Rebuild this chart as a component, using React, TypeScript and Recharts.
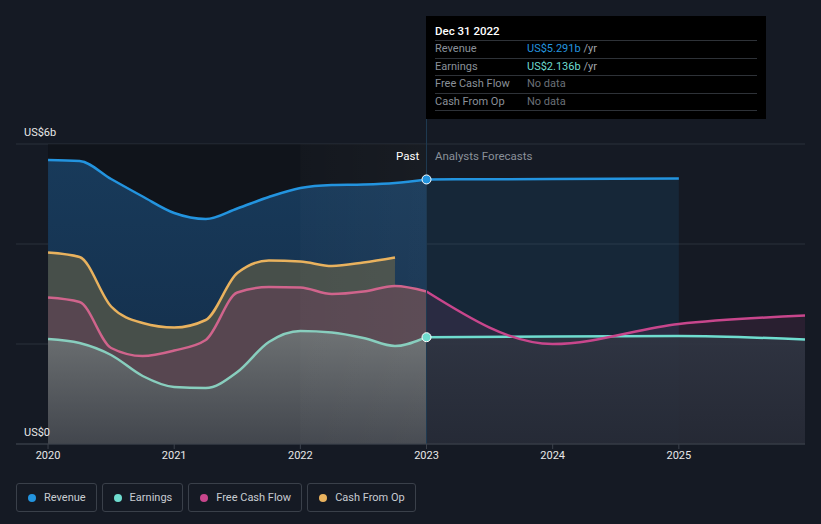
import React from 'react';
import { ComposedChart, XAxis, YAxis, CartesianGrid, Area, Line, ReferenceArea, ReferenceDot, ReferenceLine } from 'recharts';

// Past, quarterly (US$ billions)
const pastYears = [2020, 2020.25, 2020.5, 2020.75, 2021, 2021.25, 2021.5, 2021.75, 2022, 2022.25, 2022.5, 2022.75, 2023];
const revenuePast = [5.68, 5.66, 5.3, 4.95, 4.62, 4.5, 4.71, 4.94, 5.12, 5.18, 5.19, 5.22, 5.291];
const earningsPast = [2.1, 2.02, 1.78, 1.36, 1.14, 1.12, 1.44, 2.04, 2.26, 2.23, 2.12, 1.96, 2.136];
const fcfPast = [2.93, 2.84, 1.92, 1.76, 1.87, 2.08, 3.03, 3.14, 3.13, 3.0, 3.05, 3.16, 3.05];
const cfoYears = [2020, 2020.25, 2020.5, 2020.75, 2021, 2021.25, 2021.5, 2021.75, 2022, 2022.25, 2022.5, 2022.75];
const cfoPast = [3.83, 3.74, 2.75, 2.42, 2.33, 2.48, 3.42, 3.67, 3.65, 3.56, 3.63, 3.73];

// Analyst forecasts
const revenueForecastYears = [2023, 2024, 2025];
const revenueForecast = [5.291, 5.3, 5.31];
const forecastYears = [2023, 2024, 2025, 2026];
const earningsForecast = [2.136, 2.15, 2.16, 2.09];
const fcfForecast = [3.05, 2.0, 2.4, 2.57];

const xTicks = [2020, 2021, 2022, 2023, 2024, 2025];
const yTicks = [0, 2, 4, 6];

const legendItems = [
  { name: 'Revenue', color: '#2394df' },
  { name: 'Earnings', color: '#6fdccf' },
  { name: 'Free Cash Flow', color: '#c8468c' },
  { name: 'Cash From Op', color: '#e9b25e' },
];

const tooltipRows = [
  { name: 'Revenue', value: 'US$5.291b', color: '#2394df', unit: true },
  { name: 'Earnings', value: 'US$2.136b', color: '#6fdccf', unit: true },
  { name: 'Free Cash Flow', value: 'No data', color: '#6b7078', unit: false },
  { name: 'Cash From Op', value: 'No data', color: '#6b7078', unit: false },
];

// merge the series into one table keyed by x
const rows = new Map<number, any>();
const put = (xs: number[], ys: number[], key: string) => {
  xs.forEach((x, i) => {
    const r = rows.get(x) ?? { x };
    r[key] = ys[i];
    rows.set(x, r);
  });
};
put(pastYears, revenuePast, 'revenuePast');
put(pastYears, earningsPast, 'earningsPast');
put(pastYears, fcfPast, 'fcfPast');
put(cfoYears, cfoPast, 'cfoPast');
put(revenueForecastYears, revenueForecast, 'revenueForecast');
put(forecastYears, earningsForecast, 'earningsForecast');
put(forecastYears, fcfForecast, 'fcfForecast');
const data = [...rows.values()].sort((a, b) => a.x - b.x);

const YTick = (props: any) => {
  const { y, payload } = props;
  if (payload.value !== 0 && payload.value !== 6) return null;
  return (
    <text x={24} y={y - 8} fill="#e8e8e8" fontSize={11} fontFamily="Roboto">
      {payload.value === 0 ? 'US$0' : `US$${payload.value}b`}
    </text>
  );
};

const App = () => {
  return (
    <div style={{ position: 'absolute', left: 0, top: 0, width: 821, height: 524, background: '#151a24', fontFamily: 'Roboto', overflow: 'hidden' }}>
      <ComposedChart width={821} height={524} data={data} margin={{ top: 144, right: 16, bottom: 50, left: 16 }}>
        <defs>
          <linearGradient id="revFill" x1="0" y1="0" x2="0" y2="1">
            <stop offset="0%" stopColor="#183a5a" />
            <stop offset="100%" stopColor="#132c48" />
          </linearGradient>
          <linearGradient id="earnFill" x1="0" y1="0" x2="0" y2="1">
            <stop offset="0%" stopColor="#6c7072" />
            <stop offset="100%" stopColor="#42464d" />
          </linearGradient>
          <linearGradient id="earnFcFill" x1="0" y1="0" x2="0" y2="1">
            <stop offset="0%" stopColor="#2f3542" stopOpacity={0.92} />
            <stop offset="100%" stopColor="#252a35" stopOpacity={0.92} />
          </linearGradient>
          <linearGradient id="band" x1="0" y1="0" x2="1" y2="0">
            <stop offset="0%" stopColor="#ffffff" stopOpacity={0.03} />
            <stop offset="100%" stopColor="#ffffff" stopOpacity={0.07} />
          </linearGradient>
        </defs>
        <CartesianGrid vertical={false} stroke="#2b313b" />
        <ReferenceArea x1={2020} x2={2023} y1={0} y2={6} fill="#0a0d11" fillOpacity={0.45} stroke="none" />
        <XAxis
          dataKey="x"
          type="number"
          domain={[2019.746, 2026]}
          ticks={xTicks}
          allowDataOverflow
          tick={{ fill: '#e8e8e8', fontSize: 11, fontFamily: 'Roboto' }}
          tickSize={5}
          axisLine={{ stroke: '#3c424c' }}
          tickLine={{ stroke: '#3c424c' }}
        />
        <YAxis type="number" domain={[0, 6]} ticks={yTicks} mirror axisLine={false} tickLine={false} tick={<YTick />} />

        <Area type="monotone" dataKey="revenuePast" stroke="none" fill="url(#revFill)" fillOpacity={1} isAnimationActive={false} />
        <Area type="monotone" dataKey="cfoPast" stroke="none" fill="#474f4a" fillOpacity={1} isAnimationActive={false} />
        <Area type="monotone" dataKey="fcfPast" stroke="none" fill="#574650" fillOpacity={1} isAnimationActive={false} />
        <Area type="monotone" dataKey="earningsPast" stroke="none" fill="url(#earnFill)" fillOpacity={1} isAnimationActive={false} />

        <Area type="monotone" dataKey="revenueForecast" stroke="none" fill="#2394df" fillOpacity={0.11} isAnimationActive={false} />
        <Area type="monotone" dataKey="fcfForecast" stroke="none" fill="#c0468a" fillOpacity={0.12} isAnimationActive={false} />
        <Area type="monotone" dataKey="earningsForecast" stroke="none" fill="url(#earnFcFill)" fillOpacity={1} isAnimationActive={false} />

        <Line type="monotone" dataKey="revenuePast" stroke="#2394df" strokeWidth={2.5} dot={false} isAnimationActive={false} />
        <Line type="monotone" dataKey="cfoPast" stroke="#e9b25e" strokeWidth={2.5} dot={false} isAnimationActive={false} />
        <Line type="monotone" dataKey="fcfPast" stroke="#d0648c" strokeWidth={2.5} dot={false} isAnimationActive={false} />
        <Line type="monotone" dataKey="earningsPast" stroke="#88cebe" strokeWidth={2.5} dot={false} isAnimationActive={false} />
        <Line type="monotone" dataKey="revenueForecast" stroke="#2394df" strokeWidth={2.5} dot={false} isAnimationActive={false} />
        <Line type="monotone" dataKey="earningsForecast" stroke="#6fdccf" strokeWidth={2.5} dot={false} isAnimationActive={false} />
        <Line type="monotone" dataKey="fcfForecast" stroke="#c8468c" strokeWidth={2.5} dot={false} isAnimationActive={false} />

        <ReferenceArea x1={2022} x2={2023} y1={0} y2={6} fill="url(#band)" stroke="none" />
        <ReferenceLine
          segment={[{ x: 2023, y: 0 }, { x: 2023, y: 6.5 }]}
          ifOverflow="visible"
          stroke="#1f3a52"
          strokeWidth={1}
        />
        <ReferenceDot x={2023} y={revenuePast[revenuePast.length - 1]} r={4.5} fill="#2394df" stroke="#ffffff" strokeWidth={1} />
        <ReferenceDot x={2023} y={earningsPast[earningsPast.length - 1]} r={4.5} fill="#6fdccf" stroke="#ffffff" strokeWidth={1} />
      </ComposedChart>

      <div style={{ position: 'absolute', left: 396, top: 149, fontSize: 11.5, color: '#ffffff' }}>Past</div>
      <div style={{ position: 'absolute', left: 435, top: 149, fontSize: 11.5, color: '#8a9099' }}>Analysts Forecasts</div>

      <div style={{ position: 'absolute', left: 426, top: 16, width: 340, height: 103, background: '#000000', boxSizing: 'border-box', padding: '8px 9px 0 9px' }}>
        <div style={{ color: '#ffffff', fontSize: 11.5, fontWeight: 500, height: 16, lineHeight: '15px', borderBottom: '1px solid #2e3238' }}>Dec 31 2022</div>
        {tooltipRows.map((r) => (
          <div key={r.name} style={{ display: 'flex', fontSize: 11, height: 17.5, boxSizing: 'border-box', lineHeight: '16px', borderBottom: '1px solid #2e3238' }}>
            <div style={{ width: 92, color: '#8a9099' }}>{r.name}</div>
            <div style={{ color: r.color }}>
              {r.value}
              {r.unit && <span style={{ color: '#a0a4aa' }}> /yr</span>}
            </div>
          </div>
        ))}
      </div>

      <div style={{ position: 'absolute', left: 16, top: 483, display: 'flex', gap: 5 }}>
        {legendItems.map((item) => (
          <div
            key={item.name}
            style={{
              display: 'flex',
              alignItems: 'center',
              height: 27,
              padding: '0 10px 0 11px',
              border: '1px solid #3a404a',
              borderRadius: 3,
              fontSize: 11,
              color: '#c8ccd2',
            }}
          >
            <span style={{ width: 8, height: 8, borderRadius: 4, background: item.color, marginRight: 8 }} />
            {item.name}
          </div>
        ))}
      </div>
    </div>
  );
};

export default App;
